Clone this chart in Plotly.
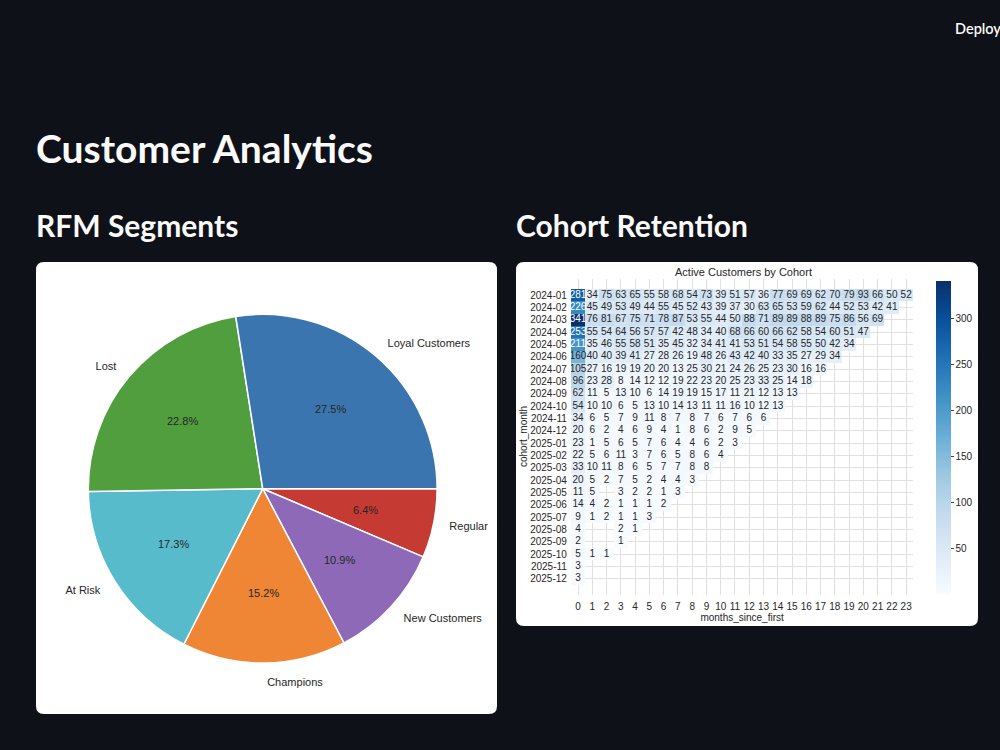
import math
import plotly.graph_objects as go

W, H = 1000, 750
BG = "#0e1117"
SANS = "Liberation Sans, Arial, sans-serif"
HEAD = "Lato, Noto Sans, sans-serif"

# ---------------- data ----------------
segments = ["Loyal Customers", "Lost", "At Risk", "Champions", "New Customers", "Regular"]
segment_share = [27.5, 22.8, 17.3, 15.2, 10.9, 6.4]
segment_colors = ["#3b75af", "#519e3e", "#58bbcc", "#ef8636", "#8d69b8", "#c53a32"]

cohorts = ["2024-01", "2024-02", "2024-03", "2024-04", "2024-05", "2024-06",
           "2024-07", "2024-08", "2024-09", "2024-10", "2024-11", "2024-12",
           "2025-01", "2025-02", "2025-03", "2025-04", "2025-05", "2025-06",
           "2025-07", "2025-08", "2025-09", "2025-10", "2025-11", "2025-12"]
months_since_first = list(range(24))
N = None
active = [
    [281, 34, 75, 63, 65, 55, 58, 68, 54, 73, 39, 51, 57, 36, 77, 69, 69, 62, 70, 79, 93, 66, 50, 52],
    [226, 45, 49, 53, 49, 44, 55, 45, 52, 43, 39, 37, 30, 63, 65, 53, 59, 62, 44, 52, 53, 42, 41],
    [341, 76, 81, 67, 75, 71, 78, 87, 53, 55, 44, 50, 88, 71, 89, 89, 88, 89, 75, 86, 56, 69],
    [253, 55, 54, 64, 56, 57, 57, 42, 48, 34, 40, 68, 66, 60, 66, 62, 58, 54, 60, 51, 47],
    [211, 35, 46, 55, 58, 51, 35, 45, 32, 34, 41, 41, 53, 51, 54, 58, 55, 50, 42, 34],
    [160, 40, 40, 39, 41, 27, 28, 26, 19, 48, 26, 43, 42, 40, 33, 35, 27, 29, 34],
    [105, 27, 16, 19, 19, 20, 20, 13, 25, 30, 21, 24, 26, 25, 23, 30, 16, 16],
    [96, 23, 28, 8, 14, 12, 12, 19, 22, 23, 20, 25, 23, 33, 25, 14, 18],
    [62, 11, 5, 13, 10, 6, 14, 19, 19, 15, 17, 11, 21, 12, 13, 13],
    [54, 10, 10, 6, 5, 13, 10, 14, 13, 11, 11, 16, 10, 12, 13],
    [34, 6, 5, 7, 9, 11, 8, 7, 8, 7, 6, 7, 6, 6],
    [20, 6, 2, 4, 6, 9, 4, 1, 8, 6, 2, 9, 5],
    [23, 1, 5, 6, 5, 7, 6, 4, 4, 6, 2, 3],
    [22, 5, 6, 11, 3, 7, 6, 5, 8, 6, 4],
    [33, 10, 11, 8, 6, 5, 7, 7, 8, 8],
    [20, 5, 2, 7, 5, 2, 4, 4, 3],
    [11, 5, N, 3, 2, 2, 1, 3],
    [14, 4, 2, 1, 1, 1, 2],
    [9, 1, 2, 1, 1, 3],
    [4, N, N, 2, 1],
    [2, N, N, 1],
    [5, 1, 1],
    [3],
    [3],
]
cbar_ticks = [50, 100, 150, 200, 250, 300]

z = [row + [None] * (len(months_since_first) - len(row)) for row in active]

blues = [[0.0, "#f7fbff"], [0.125, "#deebf7"], [0.25, "#c6dbef"], [0.375, "#9ecae1"],
         [0.5, "#6baed6"], [0.625, "#4292c6"], [0.75, "#2171b5"], [0.875, "#08519c"],
         [1.0, "#08306b"]]

# ---------------- layout helpers (pixel -> paper) ----------------
def px(x):
    return x / W

def py(y):
    return 1 - y / H

def rounded_box(x0, y0, x1, y1, r=8):
    rx, ry = r / W, r / H
    X0, X1 = px(x0), px(x1)
    Y0, Y1 = py(y1), py(y0)  # bottom, top
    return (f"M {X0+rx},{Y0} L {X1-rx},{Y0} Q {X1},{Y0} {X1},{Y0+ry} "
            f"L {X1},{Y1-ry} Q {X1},{Y1} {X1-rx},{Y1} L {X0+rx},{Y1} "
            f"Q {X0},{Y1} {X0},{Y1-ry} L {X0},{Y0+ry} Q {X0},{Y0} {X0+rx},{Y0} Z")

def square_domain(cx, cy, half):
    return dict(x=[px(cx - half), px(cx + half)], y=[py(cy + half), py(cy - half)])

fig = go.Figure()

# ---------------- pie ----------------
# matplotlib draws counter-clockwise from 3 o'clock; plotly equivalent:
# clockwise from 3 o'clock with the slice order reversed.
PCX, PCY, PR = 262.7, 488.7, 174.4
pie_common = dict(labels=segments[::-1], values=segment_share[::-1], sort=False,
                  direction="clockwise", rotation=90, hoverinfo="skip", showlegend=False)
clear = ["rgba(0,0,0,0)"] * len(segments)

fig.add_trace(go.Pie(
    **pie_common, domain=square_domain(PCX, PCY, PR),
    marker=dict(colors=segment_colors[::-1], line=dict(color="white", width=1.5)),
    textinfo="none",
))
# labels outside (transparent, slightly larger overlay -> matplotlib's labeldistance)
fig.add_trace(go.Pie(
    **pie_common, domain=square_domain(PCX, PCY, PR + 13),
    marker=dict(colors=clear, line=dict(width=0)),
    textinfo="label", textposition="outside",
    textfont=dict(family=SANS, size=11, color="#262626"),
))

# percentage labels at 0.6 r on each wedge's mid-angle (matplotlib autopct placement)
total = sum(segment_share)
pct_annotations, cum = [], 0.0
for s in segment_share:
    theta = math.radians((cum + s / 2) / total * 360.0)
    cum += s
    pct_annotations.append(dict(
        text=f"{s / total * 100:.1f}%",
        x=px(PCX + 0.6 * PR * math.cos(theta)), y=py(PCY - 0.6 * PR * math.sin(theta)),
        xanchor="center", yanchor="middle",
        font=dict(family=SANS, size=11, color="#262626")))

# ---------------- heatmap ----------------
fig.add_trace(go.Heatmap(
    x=months_since_first, y=cohorts, z=z,
    colorscale=blues, zmin=1, zmax=341, hoverongaps=False,
    colorbar=dict(x=px(936), xanchor="left", xpad=0, ypad=0, y=py(437.2), yanchor="middle",
                  len=313 / H, lenmode="fraction", thickness=15, outlinewidth=0,
                  tickvals=cbar_ticks, ticks="outside", ticklen=3, tickcolor="#444",
                  tickfont=dict(family=SANS, size=10, color="#262626")),
    xaxis="x", yaxis="y",
))

tx, ty, tt, tc = [], [], [], []
for i, row in enumerate(active):
    for j, v in enumerate(row):
        if v is None:
            continue
        tx.append(months_since_first[j])
        ty.append(cohorts[i])
        tt.append(str(v))
        tc.append("white" if v > 200 else "#262626")
fig.add_trace(go.Scatter(
    x=tx, y=ty, text=tt, mode="text",
    textfont=dict(family=SANS, size=10, color=tc),
    hoverinfo="skip", showlegend=False, xaxis="x", yaxis="y",
))

shapes = [
    dict(type="path", xref="paper", yref="paper", path=rounded_box(36, 262, 497, 714),
         fillcolor="white", line=dict(width=0), layer="below"),
    dict(type="path", xref="paper", yref="paper", path=rounded_box(516, 262, 978, 626),
         fillcolor="white", line=dict(width=0), layer="below"),
]

annotations = [
    dict(text="Customer Analytics", x=px(34), y=py(147.5), xanchor="left", yanchor="middle",
         font=dict(family=HEAD, size=39, color="#fafafa", weight=700)),
    dict(text="RFM Segments", x=px(34), y=py(225), xanchor="left", yanchor="middle",
         font=dict(family=HEAD, size=30, color="#fafafa", weight=700)),
    dict(text="Cohort Retention", x=px(514), y=py(225), xanchor="left", yanchor="middle",
         font=dict(family=HEAD, size=30, color="#fafafa", weight=700)),
    dict(text="Deploy", x=px(953), y=py(29), xanchor="left", yanchor="middle",
         font=dict(family=HEAD, size=14.5, color="#fafafa", weight=600)),
    dict(text="Active Customers by Cohort", x=px(743), y=py(272), xanchor="center",
         yanchor="middle", font=dict(family=SANS, size=11, color="#262626")),
    dict(text="cohort_month", x=px(523), y=py(437), xanchor="center", yanchor="middle",
         textangle=-90, font=dict(family=SANS, size=10, color="#262626")),
] + pct_annotations
for a in annotations:
    a.update(xref="paper", yref="paper", showarrow=False)

fig.update_layout(
    width=W, height=H, margin=dict(l=0, r=0, t=0, b=0),
    paper_bgcolor=BG, plot_bgcolor="white",
    shapes=shapes, annotations=annotations,
    xaxis=dict(domain=[px(570.9), px(913.3)], range=[-0.5, 23.5], tickvals=months_since_first,
               showgrid=True, gridcolor="#e0e0e0", gridwidth=1, zeroline=False, ticks="",
               ticklabelstandoff=4,
               tickfont=dict(family=SANS, size=10, color="#262626"),
               title=dict(text="months_since_first", standoff=2,
                          font=dict(family=SANS, size=10, color="#262626")),
               showline=False, fixedrange=True),
    yaxis=dict(domain=[py(594.6), py(279.4)], autorange="reversed", type="category",
               showgrid=True, gridcolor="#e0e0e0", gridwidth=1, zeroline=False, ticks="",
               ticklabelstandoff=3,
               tickfont=dict(family=SANS, size=10, color="#262626"),
               showline=False, fixedrange=True),
)

fig.write_html("out.html")
